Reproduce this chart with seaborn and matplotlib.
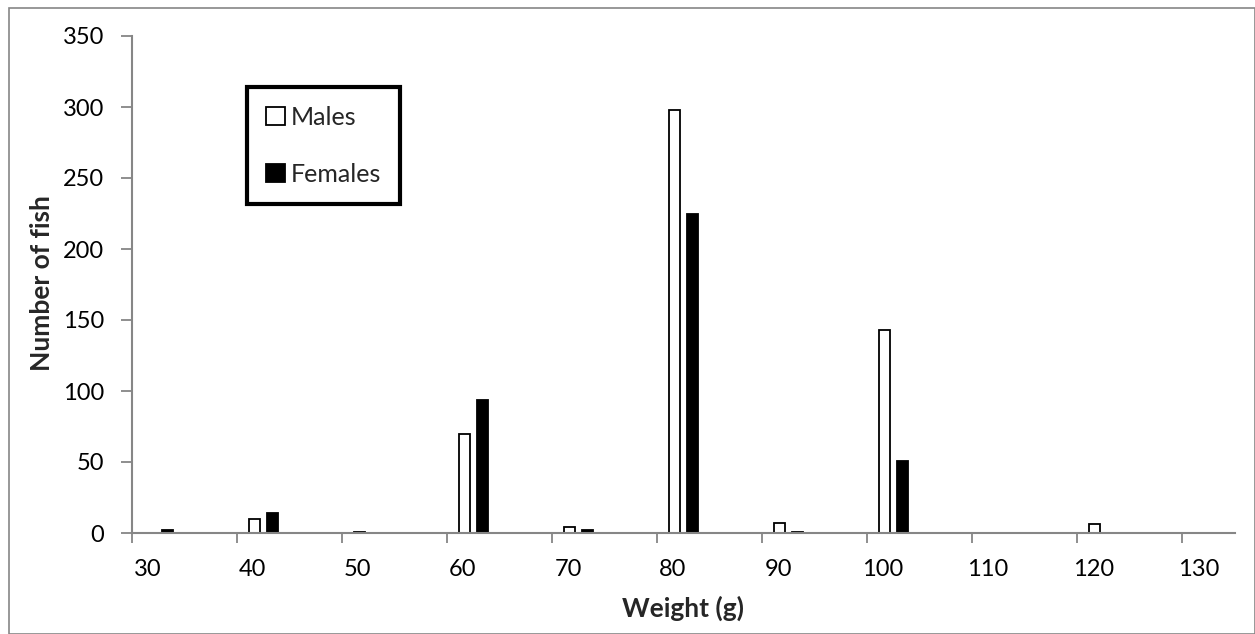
import numpy as np
import pandas as pd
import matplotlib
matplotlib.use("Agg")
import matplotlib.pyplot as plt
from matplotlib.patches import Patch, Rectangle
import seaborn as sns

weights = ["30", "40", "50", "60", "70", "80", "90", "100", "110", "120", "130"]
males = [0, 10, 1, 70, 4, 298, 7, 143, 0, 6, 0]
females = [2, 14, 0, 94, 2, 225, 1, 51, 0, 0, 0]
series = ["Males", "Females"]

df = pd.DataFrame({
    "weight": weights * 2,
    "count": males + females,
    "sex": [series[0]] * len(weights) + [series[1]] * len(weights),
})

sns.set_theme(style="white")
plt.rcParams["font.family"] = ["Lato", "DejaVu Sans"]

W, H = 1255, 634
fig = plt.figure(figsize=(W / 100, H / 100), dpi=100)
ax = fig.add_axes([132 / W, 1 - 533 / H, (1235 - 132) / W, (533 - 36) / H])

grey = "#868686"
sns.barplot(data=df, x="weight", y="count", hue="sex", order=weights,
            hue_order=series, palette={"Males": "white", "Females": "black"},
            edgecolor="black", linewidth=1.3, width=0.344, gap=0.39,
            legend=False, ax=ax, saturation=1)

ax.set_xlim(-0.25, 10.25)
ax.set_ylim(0, 350)
ax.set_yticks(np.arange(0, 351, 50))
ax.set_yticklabels([str(v) for v in range(0, 351, 50)], fontsize=17, color="black")

n = len(weights)
ax.set_xticks(np.arange(n) - 0.25)
ax.set_xticklabels([""] * n)
ax.set_xticks(np.arange(n) - 0.1, minor=True)
ax.set_xticklabels(weights, minor=True, fontsize=17, color="black")
ax.tick_params(axis="x", which="major", direction="out", length=7, width=1.3,
               color=grey, bottom=True)
ax.tick_params(axis="x", which="minor", length=0, pad=19, bottom=True)
ax.tick_params(axis="y", direction="out", length=8, width=1.3, color=grey,
               pad=12, left=True)

for s in ["top", "right"]:
    ax.spines[s].set_visible(False)
for s in ["left", "bottom"]:
    ax.spines[s].set_color(grey)
    ax.spines[s].set_linewidth(1.5)

ax.set_xlabel("")
ax.set_ylabel("")
fig.text((620 + 747) / 2 / W, 1 - 608 / H, "Weight (g)", ha="center", va="center",
         fontsize=19, fontweight="bold")
fig.text(42 / W, 1 - 283 / H, "Number of fish", ha="center", va="center",
         rotation=90, fontsize=19, fontweight="bold")

handles = [Patch(facecolor="white", edgecolor="black", linewidth=1.3, label="Males"),
           Patch(facecolor="black", edgecolor="black", linewidth=1.3, label="Females")]
leg = ax.legend(handles=handles, loc="upper left",
                bbox_to_anchor=(247 / W, 1 - 87 / H), bbox_transform=fig.transFigure,
                borderaxespad=0, fontsize=18, frameon=True, fancybox=False,
                handlelength=0.75, handleheight=0.75, handletextpad=0.25,
                labelspacing=1.35, borderpad=0.75)
frame = leg.get_frame()
frame.set_edgecolor("black")
frame.set_linewidth(3)
frame.set_alpha(1)

fig.patches.append(Rectangle((9 / W, 0), 1 - 9 / W - 0.5 / W, 1 - 8 / H,
                             transform=fig.transFigure, fill=False,
                             edgecolor=grey, linewidth=1.2))

fig.savefig("out.png", dpi=100)
